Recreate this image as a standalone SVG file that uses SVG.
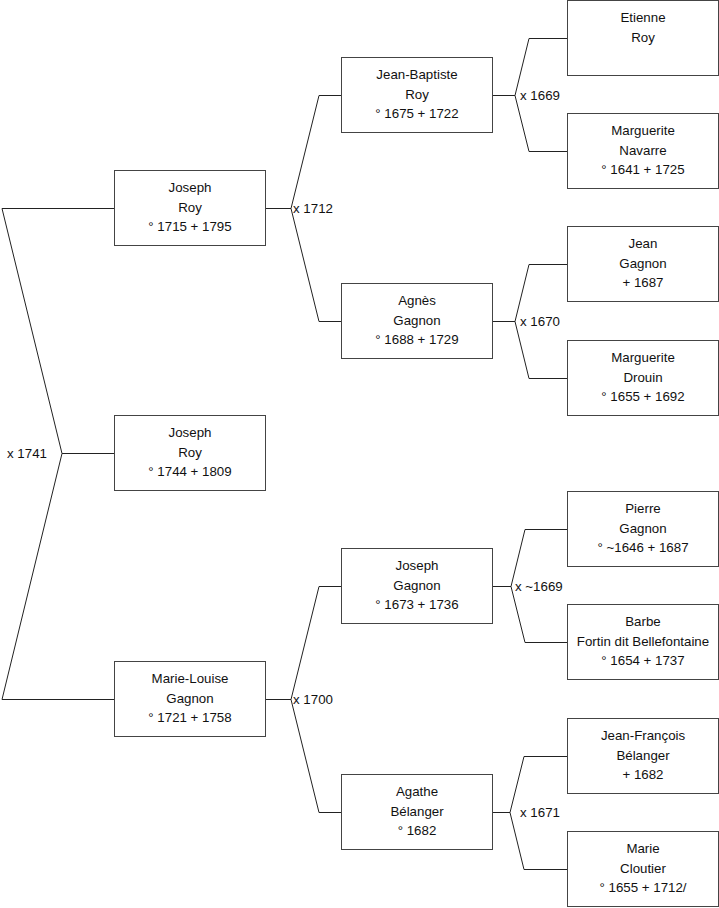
<svg xmlns="http://www.w3.org/2000/svg" width="719" height="908" viewBox="0 0 719 908">
<style>
.box{fill:#fff;stroke:#444;stroke-width:1}
.t{font-family:"Liberation Sans",Arial,sans-serif;font-size:13.3px;fill:#111;text-anchor:middle}
.m{font-family:"Liberation Sans",Arial,sans-serif;font-size:13.3px;fill:#111}
.c{fill:none;stroke:#222;stroke-width:1}
</style>
<rect width="719" height="908" fill="#fff"/>
<g id="connectors">
<polyline class="c" points="114,208.5 2,208.5 62,453.5 2,699.5 114,699.5"/>
<line class="c" x1="62" y1="453.5" x2="114" y2="453.5"/>
<polyline class="c" points="341,95.5 319,95.5 291,208.5 319,321.5 341,321.5"/>
<line class="c" x1="265" y1="208.5" x2="291" y2="208.5"/>
<polyline class="c" points="341,586.5 319,586.5 291,699.5 319,812.5 341,812.5"/>
<line class="c" x1="265" y1="699.5" x2="291" y2="699.5"/>
<polyline class="c" points="567,38.5 529,38.5 515,95.5 529,151.5 567,151.5"/>
<line class="c" x1="492" y1="95.5" x2="515" y2="95.5"/>
<polyline class="c" points="567,264.5 529,264.5 515,321.5 529,378.5 567,378.5"/>
<line class="c" x1="492" y1="321.5" x2="515" y2="321.5"/>
<polyline class="c" points="567,529.5 525,529.5 511,586.5 525,642.5 567,642.5"/>
<line class="c" x1="492" y1="586.5" x2="511" y2="586.5"/>
<polyline class="c" points="567,756.5 524,756.5 510,812.5 524,869.5 567,869.5"/>
<line class="c" x1="492" y1="812.5" x2="510" y2="812.5"/>
</g>
<g id="marriages">
<text class="m" x="7" y="458">x 1741</text>
<text class="m" x="293" y="213">x 1712</text>
<text class="m" x="293" y="704">x 1700</text>
<text class="m" x="520" y="100">x 1669</text>
<text class="m" x="520" y="326">x 1670</text>
<text class="m" x="515" y="591">x ~1669</text>
<text class="m" x="520" y="817">x 1671</text>
</g>
<g id="n1"><rect class="box" x="114.5" y="170.5" width="151" height="75"/><text class="t" x="190" y="192">Joseph</text><text class="t" x="190" y="212">Roy</text><text class="t" x="190" y="231">° 1715 + 1795</text></g>
<g id="n0"><rect class="box" x="114.5" y="415.5" width="151" height="75"/><text class="t" x="190" y="437">Joseph</text><text class="t" x="190" y="457">Roy</text><text class="t" x="190" y="476">° 1744 + 1809</text></g>
<g id="n2"><rect class="box" x="114.5" y="661.5" width="151" height="75"/><text class="t" x="190" y="683">Marie-Louise</text><text class="t" x="190" y="703">Gagnon</text><text class="t" x="190" y="722">° 1721 + 1758</text></g>
<g id="n3"><rect class="box" x="341.5" y="57.5" width="151" height="75"/><text class="t" x="417" y="79">Jean-Baptiste</text><text class="t" x="417" y="99">Roy</text><text class="t" x="417" y="118">° 1675 + 1722</text></g>
<g id="n4"><rect class="box" x="341.5" y="283.5" width="151" height="75"/><text class="t" x="417" y="305">Agnès</text><text class="t" x="417" y="325">Gagnon</text><text class="t" x="417" y="344">° 1688 + 1729</text></g>
<g id="n5"><rect class="box" x="341.5" y="548.5" width="151" height="75"/><text class="t" x="417" y="570">Joseph</text><text class="t" x="417" y="590">Gagnon</text><text class="t" x="417" y="609">° 1673 + 1736</text></g>
<g id="n6"><rect class="box" x="341.5" y="774.5" width="151" height="75"/><text class="t" x="417" y="796">Agathe</text><text class="t" x="417" y="816">Bélanger</text><text class="t" x="417" y="835">° 1682</text></g>
<g id="n7"><rect class="box" x="567.5" y="0.5" width="151" height="75"/><text class="t" x="643" y="22">Etienne</text><text class="t" x="643" y="42">Roy</text></g>
<g id="n8"><rect class="box" x="567.5" y="113.5" width="151" height="75"/><text class="t" x="643" y="135">Marguerite</text><text class="t" x="643" y="155">Navarre</text><text class="t" x="643" y="174">° 1641 + 1725</text></g>
<g id="n9"><rect class="box" x="567.5" y="226.5" width="151" height="75"/><text class="t" x="643" y="248">Jean</text><text class="t" x="643" y="268">Gagnon</text><text class="t" x="643" y="287">+ 1687</text></g>
<g id="n10"><rect class="box" x="567.5" y="340.5" width="151" height="75"/><text class="t" x="643" y="362">Marguerite</text><text class="t" x="643" y="382">Drouin</text><text class="t" x="643" y="401">° 1655 + 1692</text></g>
<g id="n11"><rect class="box" x="567.5" y="491.5" width="151" height="75"/><text class="t" x="643" y="513">Pierre</text><text class="t" x="643" y="533">Gagnon</text><text class="t" x="643" y="552">° ~1646 + 1687</text></g>
<g id="n12"><rect class="box" x="567.5" y="604.5" width="151" height="75"/><text class="t" x="643" y="626">Barbe</text><text class="t" x="643" y="646">Fortin dit Bellefontaine</text><text class="t" x="643" y="665">° 1654 + 1737</text></g>
<g id="n13"><rect class="box" x="567.5" y="718.5" width="151" height="75"/><text class="t" x="643" y="740">Jean-François</text><text class="t" x="643" y="760">Bélanger</text><text class="t" x="643" y="779">+ 1682</text></g>
<g id="n14"><rect class="box" x="567.5" y="831.5" width="151" height="75"/><text class="t" x="643" y="853">Marie</text><text class="t" x="643" y="873">Cloutier</text><text class="t" x="643" y="892">° 1655 + 1712/</text></g>
</svg>
